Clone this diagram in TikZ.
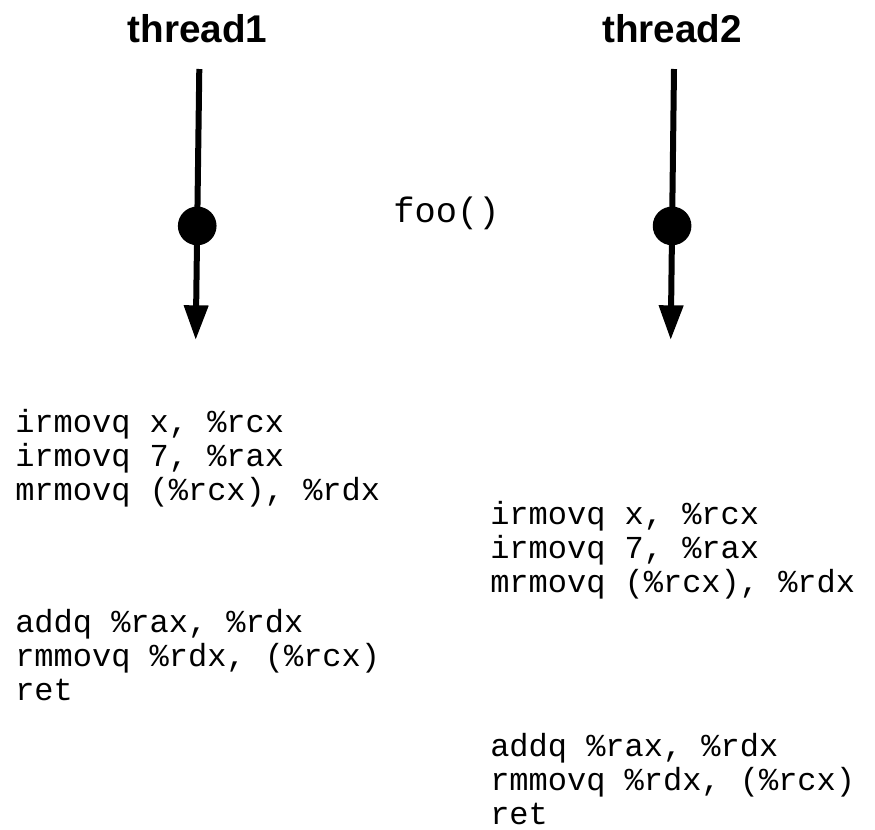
\documentclass[tikz,border=0pt]{standalone}
\usepackage{fontspec}
\setmainfont{Liberation Sans}
\newfontfamily\codefont{Liberation Mono}
\usetikzlibrary{arrows.meta,calc}

\tikzset{
  title/.style={anchor=base,inner sep=0pt,font=\fontsize{29}{29}\selectfont\bfseries},
  code/.style={anchor=base west,inner sep=0pt,align=left,font=\codefont\fontsize{24}{25.5}\selectfont},
  thr/.style={draw=black,line width=4.5pt,-{Triangle[length=26pt,width=17.5pt]}},
  dot/.style={shape=circle,fill=black,inner sep=0pt,minimum size=29pt}
}

\begin{document}
\begin{tikzpicture}[x=0.75pt,y=-0.75pt]
\useasboundingbox (0,0) rectangle (875,829);

\node[title] (0) at (197.5,42) {thread1};
\node[title] (1) at (672,42) {thread2};

\coordinate (2) at (199.3,69);
\coordinate (3) at (195.7,340);
\coordinate (4) at (674,69);
\coordinate (5) at (670.7,340);

\path [thr] (2) -- (3);
\path [thr] (4) -- (5);
\node[dot] (6) at ($(2)!0.579!(3)$) {};
\node[dot] (7) at ($(4)!0.579!(5)$) {};

\node[anchor=base,inner sep=0pt,font=\codefont\fontsize{26.5}{26.5}\selectfont] (8) at (446.5,222) {foo()};

\node[code] (9) at (15,500) {irmovq x, \%rcx\\irmovq 7, \%rax\\mrmovq (\%rcx), \%rdx};
\node[code] (10) at (15,700) {addq \%rax, \%rdx\\rmmovq \%rdx, (\%rcx)\\ret};
\node[code] (11) at (490,592) {irmovq x, \%rcx\\irmovq 7, \%rax\\mrmovq (\%rcx), \%rdx};
\node[code] (12) at (490,824) {addq \%rax, \%rdx\\rmmovq \%rdx, (\%rcx)\\ret};
\end{tikzpicture}
\end{document}
